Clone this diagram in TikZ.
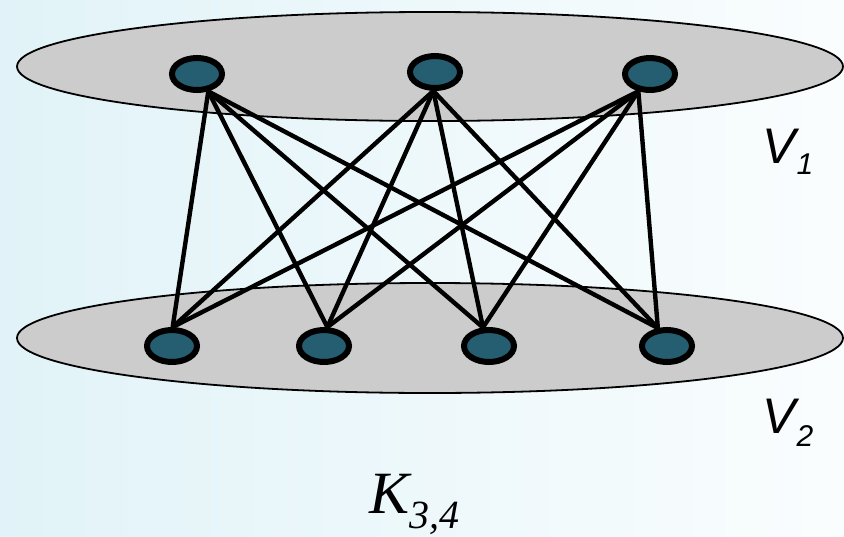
\documentclass[tikz,border=0pt]{standalone}
\usepackage{fontspec}
\newfontfamily\vfont{Liberation Sans}
\newfontfamily\kfont{Liberation Serif}
\usetikzlibrary{shapes.geometric}
\pgfdeclarelayer{back}
\pgfdeclarelayer{mid}
\pgfsetlayers{back,mid,main}
\definecolor{vfill}{RGB}{36,94,112}
\definecolor{setgray}{RGB}{204,204,204}
\definecolor{bgleft}{RGB}{225,243,248}
\definecolor{bgright}{RGB}{250,253,254}
\tikzset{
  vert/.style={ellipse, draw=black, line width=6pt, fill=vfill, minimum width=50pt, minimum height=32pt, inner sep=0pt},
  setell/.style={draw=black, line width=1.8pt, fill=setgray},
  edge/.style={draw=black, line width=4.4pt},
  lbl/.style={inner sep=0pt, anchor=base west}
}
\begin{document}
\begin{tikzpicture}[x=1pt,y=-1pt]
\useasboundingbox (0,0) rectangle (844,536);
\begin{pgfonlayer}{back}
  \shade[left color=bgleft, right color=bgright] (0,0) rectangle (844,536);
  \draw[setell] (430,66.5) ellipse [x radius=413, y radius=54.5];
  \draw[setell] (430,338) ellipse [x radius=413, y radius=55];
\end{pgfonlayer}
\node[vert] (t1) at (197,74) {};
\node[vert] (t2) at (435,72) {};
\node[vert] (t3) at (650,74) {};
\node[vert] (b1) at (172,346) {};
\node[vert] (b2) at (324,346) {};
\node[vert] (b3) at (489,346) {};
\node[vert] (b4) at (667,346) {};
\coordinate (t1x) at (t1.-57);
\coordinate (t2x) at (t2.-95);
\coordinate (t3x) at (t3.-124);
\coordinate (b1x) at (b1.88);
\coordinate (b2x) at (b2.80);
\coordinate (b3x) at (b3.108);
\coordinate (b4x) at (b4.117);
\begin{pgfonlayer}{mid}
  \foreach \t in {t1x,t2x,t3x}{
    \foreach \b in {b1x,b2x,b3x,b4x}{
      \draw[edge] (\t) -- (\b);
    }
  }
\end{pgfonlayer}
\node[lbl] (v1) at (762,163) {\vfont\itshape\fontsize{50}{50}\selectfont V\kern1pt\raisebox{-11pt}{\fontsize{30}{30}\selectfont 1}};
\node[lbl] (v2) at (762,433) {\vfont\itshape\fontsize{50}{50}\selectfont V\kern1pt\raisebox{-13pt}{\fontsize{30}{30}\selectfont 2}};
\node[lbl] (k) at (369,513) {\kfont\itshape\fontsize{60}{60}\selectfont K\raisebox{-15pt}{\fontsize{40}{40}\selectfont 3,4}};
\end{tikzpicture}
\end{document}
